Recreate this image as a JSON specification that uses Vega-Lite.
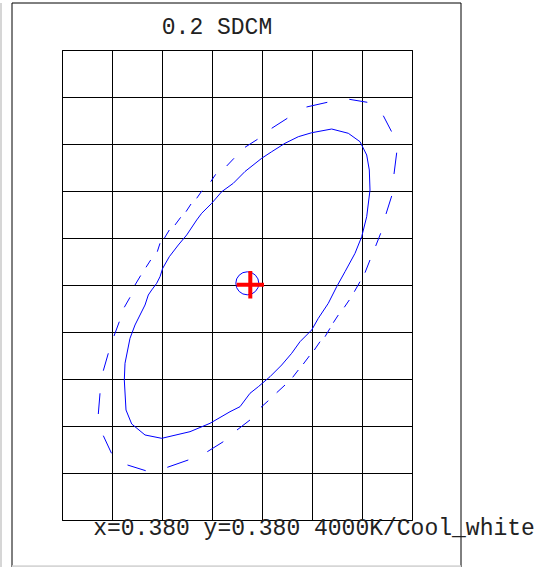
{
  "$schema": "https://vega.github.io/schema/vega-lite/v6.json",
  "width": 350,
  "height": 470,
  "autosize": {"type": "none"},
  "padding": {"left": 62, "top": 50, "right": 146, "bottom": 47},
  "background": "white",
  "config": {"view": {"stroke": "black", "strokeWidth": 1}},
  "encoding": {
    "x": {"field": "x", "type": "quantitative", "scale": {"domain": [0, 7], "nice": false, "zero": false},
      "axis": {"values": [0,1,2,3,4,5,6,7], "grid": true, "gridColor": "black", "gridOpacity": 1, "gridWidth": 1, "ticks": false, "labels": false, "domain": false, "title": null}},
    "y": {"field": "y", "type": "quantitative", "scale": {"domain": [0, 10], "nice": false, "zero": false},
      "axis": {"values": [0,1,2,3,4,5,6,7,8,9,10], "grid": true, "gridColor": "black", "gridOpacity": 1, "gridWidth": 1, "ticks": false, "labels": false, "domain": false, "title": null}}
  },
  "layer": [
    {
      "data": {"values": [{"x": -1, "y": -1, "x2": 7.98, "y2": 11}]},
      "mark": {"type": "rect", "fill": null, "fillOpacity": 0, "stroke": "black", "strokeWidth": 1},
      "encoding": {"x2": {"field": "x2"}, "y2": {"field": "y2"}}
    },
    {
      "data": {"values": [
        {"x": -1.22, "y": -1, "x2": -1.22, "y2": 11},
        {"x": -1, "y": -0.982, "x2": 7.98, "y2": -0.982}
      ]},
      "mark": {"type": "rule", "color": "#d6d6d6", "strokeWidth": 2},
      "encoding": {"x2": {"field": "x2"}, "y2": {"field": "y2"}}
    },
    {
      "data": {"values": [
        {"i": 1, "x": 5.394, "y": 8.319},
        {"i": 2, "x": 5.726, "y": 8.228},
        {"i": 3, "x": 5.96, "y": 8.049},
        {"i": 4, "x": 6.094, "y": 7.766},
        {"i": 5, "x": 6.146, "y": 7.447},
        {"i": 6, "x": 6.16, "y": 7.021},
        {"i": 7, "x": 6.094, "y": 6.453},
        {"i": 8, "x": 5.994, "y": 6.028},
        {"i": 9, "x": 5.86, "y": 5.674},
        {"i": 10, "x": 5.66, "y": 5.283},
        {"i": 11, "x": 5.494, "y": 4.964},
        {"i": 12, "x": 5.326, "y": 4.611},
        {"i": 13, "x": 5.126, "y": 4.291},
        {"i": 14, "x": 4.994, "y": 4.043},
        {"i": 15, "x": 4.76, "y": 3.794},
        {"i": 16, "x": 4.594, "y": 3.547},
        {"i": 17, "x": 4.394, "y": 3.298},
        {"i": 18, "x": 4.16, "y": 3.049},
        {"i": 19, "x": 3.926, "y": 2.836},
        {"i": 20, "x": 3.76, "y": 2.696},
        {"i": 21, "x": 3.56, "y": 2.411},
        {"i": 22, "x": 3.36, "y": 2.304},
        {"i": 23, "x": 2.96, "y": 2.057},
        {"i": 24, "x": 2.56, "y": 1.879},
        {"i": 25, "x": 1.994, "y": 1.738},
        {"i": 26, "x": 1.66, "y": 1.809},
        {"i": 27, "x": 1.394, "y": 2.043},
        {"i": 28, "x": 1.28, "y": 2.34},
        {"i": 29, "x": 1.246, "y": 2.979},
        {"i": 30, "x": 1.26, "y": 3.334},
        {"i": 31, "x": 1.36, "y": 3.866},
        {"i": 32, "x": 1.46, "y": 4.149},
        {"i": 33, "x": 1.66, "y": 4.574},
        {"i": 34, "x": 1.726, "y": 4.787},
        {"i": 35, "x": 1.794, "y": 4.894},
        {"i": 36, "x": 1.894, "y": 5.036},
        {"i": 37, "x": 1.96, "y": 5.177},
        {"i": 38, "x": 2.014, "y": 5.355},
        {"i": 39, "x": 2.146, "y": 5.602},
        {"i": 40, "x": 2.326, "y": 5.851},
        {"i": 41, "x": 2.494, "y": 6.064},
        {"i": 42, "x": 2.694, "y": 6.383},
        {"i": 43, "x": 2.794, "y": 6.526},
        {"i": 44, "x": 2.994, "y": 6.738},
        {"i": 45, "x": 3.194, "y": 6.985},
        {"i": 46, "x": 3.426, "y": 7.164},
        {"i": 47, "x": 3.66, "y": 7.415},
        {"i": 48, "x": 3.994, "y": 7.696},
        {"i": 49, "x": 4.194, "y": 7.836},
        {"i": 50, "x": 4.46, "y": 8.015},
        {"i": 51, "x": 4.726, "y": 8.155},
        {"i": 52, "x": 4.994, "y": 8.24},
        {"i": 53, "x": 5.394, "y": 8.319}
      ]},
      "mark": {"type": "line", "color": "#0000ff", "strokeWidth": 1},
      "encoding": {"order": {"field": "i", "type": "quantitative"}}
    },
    {
      "data": {"values": [
        {"x": 3.66, "y": 7.93, "x2": 3.91, "y2": 8.1},
        {"x": 4.194, "y": 8.334, "x2": 4.506, "y2": 8.547},
        {"x": 4.89, "y": 8.787, "x2": 5.306, "y2": 8.887},
        {"x": 5.746, "y": 8.951, "x2": 6.106, "y2": 8.887},
        {"x": 6.426, "y": 8.602, "x2": 6.59, "y2": 8.266},
        {"x": 6.694, "y": 7.815, "x2": 6.64, "y2": 7.362},
        {"x": 6.594, "y": 6.894, "x2": 6.48, "y2": 6.511},
        {"x": 6.374, "y": 6.1, "x2": 6.274, "y2": 5.83},
        {"x": 6.16, "y": 5.532, "x2": 6.06, "y2": 5.262},
        {"x": 5.96, "y": 5.07, "x2": 5.846, "y2": 4.857},
        {"x": 5.746, "y": 4.681, "x2": 5.646, "y2": 4.526},
        {"x": 5.526, "y": 4.362, "x2": 5.426, "y2": 4.198},
        {"x": 5.36, "y": 4.079, "x2": 5.26, "y2": 3.9},
        {"x": 5.16, "y": 3.794, "x2": 5.046, "y2": 3.617},
        {"x": 4.946, "y": 3.489, "x2": 4.826, "y2": 3.319},
        {"x": 4.726, "y": 3.191, "x2": 4.614, "y2": 3.036},
        {"x": 4.46, "y": 2.872, "x2": 4.294, "y2": 2.709},
        {"x": 4.126, "y": 2.538, "x2": 3.98, "y2": 2.398},
        {"x": 3.76, "y": 2.128, "x2": 3.5, "y2": 1.915},
        {"x": 3.226, "y": 1.666, "x2": 2.906, "y2": 1.453},
        {"x": 2.526, "y": 1.277, "x2": 2.106, "y2": 1.121},
        {"x": 1.674, "y": 1.049, "x2": 1.31, "y2": 1.17},
        {"x": 0.99, "y": 1.419, "x2": 0.826, "y2": 1.794},
        {"x": 0.726, "y": 2.255, "x2": 0.76, "y2": 2.696},
        {"x": 0.826, "y": 3.177, "x2": 0.926, "y2": 3.547},
        {"x": 1.04, "y": 3.915, "x2": 1.146, "y2": 4.219},
        {"x": 1.246, "y": 4.526, "x2": 1.36, "y2": 4.738},
        {"x": 1.46, "y": 5.0, "x2": 1.574, "y2": 5.202},
        {"x": 1.68, "y": 5.377, "x2": 1.774, "y2": 5.532},
        {"x": 1.906, "y": 5.709, "x2": 1.96, "y2": 5.887},
        {"x": 2.046, "y": 5.994, "x2": 2.146, "y2": 6.17},
        {"x": 2.26, "y": 6.277, "x2": 2.374, "y2": 6.44},
        {"x": 2.48, "y": 6.56, "x2": 2.58, "y2": 6.723},
        {"x": 2.694, "y": 6.845, "x2": 2.8, "y2": 7.006},
        {"x": 2.974, "y": 7.198, "x2": 3.074, "y2": 7.355},
        {"x": 3.294, "y": 7.532, "x2": 3.44, "y2": 7.696}
      ]},
      "mark": {"type": "rule", "color": "#0000ff", "strokeWidth": 1},
      "encoding": {"x2": {"field": "x2"}, "y2": {"field": "y2"}}
    },
    {
      "data": {"values": [{"x": 3.706, "y": 5.036}]},
      "mark": {"type": "point", "shape": "circle", "size": 529, "filled": false, "stroke": "#0000ff", "strokeWidth": 1, "opacity": 1}
    },
    {
      "data": {"values": [{"x": 3.766, "y": 5.004}]},
      "mark": {"type": "point", "shape": "M-1,0L1,0M0,-1L0,1", "size": 750, "filled": false, "stroke": "#ff0000", "strokeWidth": 4, "strokeCap": "butt", "opacity": 1}
    },
    {
      "data": {"values": [
        {"x": 3.1, "y": 10.33, "label": "0.2 SDCM"},
        {"x": 5.04, "y": -0.319, "label": "x=0.380 y=0.380 4000K/Cool_white"}
      ]},
      "mark": {"type": "text", "align": "center", "baseline": "alphabetic", "font": "Liberation Mono", "fontSize": 23, "color": "#222222"},
      "encoding": {"text": {"field": "label"}}
    }
  ]
}
